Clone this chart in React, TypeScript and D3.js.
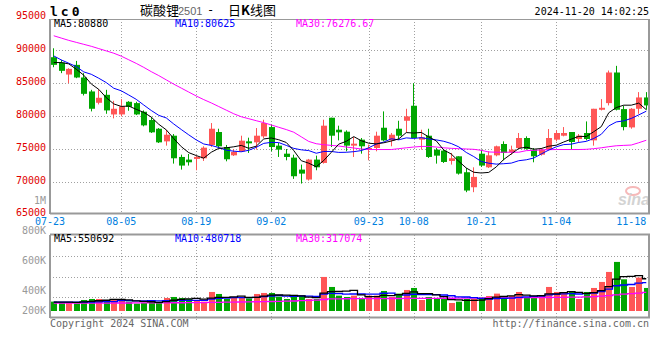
import React from 'react';
import * as d3 from 'd3';

const dates = [
  '07-23','07-24','07-25','07-26','07-29','07-30','07-31',
  '08-01','08-02','08-05','08-06','08-07','08-08','08-09','08-12','08-13','08-14','08-15','08-16',
  '08-19','08-20','08-21','08-22','08-23','08-26','08-27','08-28','08-29','08-30',
  '09-02','09-03','09-04','09-05','09-06','09-09','09-10','09-11','09-12','09-13',
  '09-18','09-19','09-20','09-23','09-24','09-25','09-26','09-27','09-30',
  '10-08','10-09','10-10','10-11','10-14','10-15','10-16','10-17','10-18',
  '10-21','10-22','10-23','10-24','10-25','10-28','10-29','10-30','10-31',
  '11-01','11-04','11-05','11-06','11-07','11-08','11-11','11-12','11-13','11-14','11-15',
  '11-18','11-19','11-20',
];
const tickLabels = ['07-23','08-05','08-19','09-02','09-23','10-08','10-21','11-04','11-18'];

const opens = [
  88890,88080,86260,87730,85810,83690,81970,83180,80200,80200,
  82120,81920,80610,79350,78030,76110,76970,73740,73340,73440,
  73540,75560,77530,75250,73990,74600,76110,75960,76870,78280,
  75460,74240,73640,71820,70310,73340,72830,79700,77880,77580,
  75460,76370,74950,75100,78180,76260,78030,79240,81520,76370,
  76970,74850,74700,73130,73840,71420,69140,74240,72170,73990,
  75710,74450,75100,76620,74850,74090,74850,76370,76970,77530,
  76470,77380,76260,80910,81920,86570,81010,78230,81060,82780,
];
const highs = [
  90250,88490,87220,88330,86470,83940,84040,83940,82270,82530,
  82220,82120,80810,79800,78130,77880,77220,74090,74190,73940,
  75360,78890,78030,75560,74950,76970,76670,78130,79400,78640,
  75860,74950,74090,72580,73440,73940,79400,79700,78490,77780,
  76770,76620,75610,77580,80660,77380,79240,81060,84950,77880,
  78030,75100,74850,74350,73840,72070,72170,74850,74600,75460,
  76110,75460,77380,76870,75100,75100,77980,77780,78280,77530,
  77220,79140,81060,82530,86870,87580,81520,81160,83590,83590,
];
const lows = [
  87370,86470,84950,85710,83080,80660,81720,80300,79600,79900,
  80760,80100,78390,77380,75860,75460,72730,71820,72430,71720,
  73130,75250,75100,73080,73890,74500,74350,74850,76620,74600,
  73740,73230,70410,69700,70150,71720,72730,75250,76260,74600,
  73740,74240,73230,74600,76110,75360,76370,77480,76620,74850,
  73590,72730,72830,72580,71060,68390,68390,72220,72070,73840,
  73230,74090,74950,74850,72930,73940,74700,76110,76870,74850,
  75960,76260,75460,80810,81570,80810,77780,78030,80300,80910,
];
const closes = [
  87730,86820,87120,85810,83330,81060,82730,80810,81060,81420,
  81360,80200,78540,77480,75960,77120,73540,72430,72930,73740,
  75150,78030,75360,73390,74500,76210,75810,76970,78890,75250,
  74850,73740,70810,71210,73340,72170,78490,76970,77480,75460,
  75760,75360,75100,76970,76260,77120,76970,79900,76620,76720,
  73740,73940,72980,73540,71210,68640,70710,72430,73990,75360,
  74350,74850,76620,74950,73840,74850,76620,77380,77380,76010,
  76970,76470,81060,81210,86570,80910,78280,81060,82780,81570,
];
const volumes = [
  159000,147000,147000,130000,187000,204000,204000,187000,204000,187000,
  159000,125000,142000,170000,142000,221000,238000,221000,204000,187000,
  159000,323000,289000,204000,221000,232000,215000,289000,306000,306000,
  244000,204000,272000,255000,204000,204000,578000,408000,261000,238000,
  261000,204000,261000,261000,340000,238000,295000,357000,391000,187000,
  238000,204000,204000,136000,159000,204000,204000,227000,255000,295000,
  255000,255000,323000,227000,227000,272000,408000,323000,323000,323000,
  204000,323000,391000,493000,663000,833000,538000,408000,567000,391000,
];

// moving-average values before enough in-window days exist
const priceMa5Head = [88080, 88080, 87880, 87070];
const priceMa10Head = [89090, 88480, 87980, 87470, 86660, 86300, 85700, 85040, 84180];
const priceMa30 = [
  92150,91800,91450,91150,90850,90550,90200,89850,89500,89050,
  88500,87950,87350,86700,86100,85450,84800,84200,83600,83000,
  82450,81950,81400,80850,80300,79850,79550,79250,78950,78600,
  78250,77900,77500,76800,76100,75750,75600,75500,75400,75250,
  75100,74950,74870,74870,74870,74870,75000,75130,75250,75340,
  75340,75250,75130,75050,75000,74950,74900,74750,74500,74460,
  74460,74460,74460,74700,74750,74800,74850,74870,74870,74870,
  74870,74900,75000,75130,75300,75440,75500,75550,75900,76277,
];
const volMa5Head = [150000, 150000, 150000, 148000];
const volMa10Head = [150000, 150000, 150000, 150000, 150000, 152000, 155000, 158000, 160000];
const volMa30 = [
  132000,132000,133000,133000,133000,134000,134000,135000,135000,136000,
  136000,137000,137000,138000,138000,139000,140000,140000,141000,142000,
  143000,145000,147000,149000,151000,153000,155000,157000,159000,161000,
  163000,166000,170000,175000,180000,186000,195000,
  205000,207000,208000,209000,210000,210000,211000,211000,212000,212000,
  213000,214000,214000,215000,215000,216000,216000,217000,
  218000,219000,220000,221000,222000,223000,224000,225000,226000,227000,
  228000,229000,230000,232000,234000,236000,240000,245000,
  252000,262000,275000,285000,295000,305000,317000,
];

const priceTicks = [65000, 70000, 75000, 80000, 85000, 90000, 95000];
const volTicks = [200000, 400000, 600000, 800000];
const priceMaLabels = ['MA5:80880', 'MA10:80625', 'MA30:76276.67'];
const volMaLabels = ['MA5:550692', 'MA10:480718', 'MA30:317074'];

const movingAvg = (arr: number[], n: number, head: number[]) =>
  arr.map((_, i) => (i < n - 1 ? head[i] : (d3.mean(arr.slice(i - n + 1, i + 1)) as number)));

const RED = '#ff5656';
const GREEN = '#00a600';
const MONO = '"DejaVu Sans Mono", monospace';
const CJK = '"Noto Sans CJK SC", sans-serif';

export default function App() {
  const W = 660, H = 360;
  const L = 50, R = 650;
  const pTop = 19, pBot = 214;
  const vTop = 235, vBot = 318;

  const x = d3.scaleBand<string>().domain(dates).range([L, R]).padding(0);
  const cx = (i: number) => (x(dates[i]) as number) + x.bandwidth() / 2;
  const bw = x.bandwidth() * 0.8;

  const y = d3.scaleLinear().domain([65000, 95000]).range([214.5, 17]);
  const yv = d3.scaleLinear().domain([0, 1290000]).range([311, 235]);
  const yvLabel = d3.scaleLinear().domain([200000, 800000]).range([323.5, 233.5]);

  const ma5 = movingAvg(closes, 5, priceMa5Head);
  const ma10 = movingAvg(closes, 10, priceMa10Head);
  const vma5 = movingAvg(volumes, 5, volMa5Head);
  const vma10 = movingAvg(volumes, 10, volMa10Head);

  const pLine = d3.line<number>().x((_, i) => cx(i)).y((v) => y(v));
  const vLine = d3.line<number>().x((_, i) => cx(i)).y((v) => yv(v)).curve(d3.curveStep);

  const isUp = (i: number) => closes[i] >= opens[i];
  const tickIdx = tickLabels.map((t) => dates.indexOf(t));

  return (
    <svg width={W} height={H} style={{ display: 'block', background: '#fff' }}>
      <style>{`body{margin:0}`}</style>

      {/* header */}
      <text x={50} y={16} fontFamily={MONO} fontWeight="bold" fontSize={13} letterSpacing={3} fill="#000">lc0</text>
      <text x={140} y={15} fontFamily={CJK} fontSize={13} fill="#000">碳酸锂</text>
      <text x={178} y={15} fontFamily='"Liberation Sans", Arial, sans-serif' fontSize={11} fill="#666">2501</text>
      <text x={207} y={14} fontFamily={MONO} fontSize={12} fill="#000">-</text>
      <text x={228} y={15} fontFamily={CJK} fontSize={13} fill="#000">
        日<tspan fontWeight="bold">K</tspan>线图
      </text>
      <text x={649} y={15} fontFamily={MONO} fontSize={10} fill="#000" textAnchor="end">2024-11-20 14:02:25</text>

      {/* main panel grid */}
      {priceTicks.filter((t) => t > 65000 && t < 95000).map((t) => (
        <line key={'hg' + t} x1={L} x2={R} y1={Math.round(y(t)) + 0.5} y2={Math.round(y(t)) + 0.5}
          stroke="#a0a0a0" strokeDasharray="1,2" />
      ))}
      {tickIdx.slice(1, -1).map((i) => (
        <line key={'vg' + i} x1={Math.round(cx(i)) + 0.5} x2={Math.round(cx(i)) + 0.5} y1={pTop} y2={pBot}
          stroke="#a0a0a0" strokeDasharray="1,2" />
      ))}

      {/* volume panel grid */}
      {d3.range(1, 4).map((k) => {
        const gy = Math.round(vTop + ((vBot - vTop) * k) / 4) + 0.5;
        return <line key={'vhg' + k} x1={L} x2={R} y1={gy} y2={gy} stroke="#a0a0a0" strokeDasharray="1,2" />;
      })}
      {tickIdx.slice(1, -1).map((i) => (
        <line key={'vvg' + i} x1={Math.round(cx(i)) + 0.5} x2={Math.round(cx(i)) + 0.5} y1={vTop} y2={vBot + 4}
          stroke="#a0a0a0" strokeDasharray="1,2" />
      ))}

      {/* watermark */}
      <g opacity={0.55}>
        <ellipse cx={633} cy={191} rx={7} ry={4} fill="none" stroke="#f08080" strokeWidth={2} />
        <text x={650} y={205} fontFamily='"Liberation Sans", Arial, sans-serif' fontStyle="italic" fontWeight="bold"
          fontSize={16} fill="#b0b0b0" textAnchor="end">sina</text>
      </g>

      {/* candles */}
      {dates.map((d, i) => {
        const c = isUp(i) ? RED : GREEN;
        const top = y(Math.max(opens[i], closes[i]));
        const bot = y(Math.min(opens[i], closes[i]));
        const xc = Math.floor(cx(i)) + 0.5;
        return (
          <g key={'c' + d}>
            <line x1={xc} x2={xc} y1={y(highs[i])} y2={y(lows[i])} stroke={c} strokeWidth={1} />
            <rect x={Math.floor(cx(i)) - 2} y={top} width={Math.round(bw)} height={Math.max(1, bot - top)} fill={c} />
          </g>
        );
      })}

      {/* MA lines main */}
      <path d={pLine(priceMa30) || ''} fill="none" stroke="#ff00ff" strokeWidth={1} />
      <path d={pLine(ma10) || ''} fill="none" stroke="#0000ff" strokeWidth={1} />
      <path d={pLine(ma5) || ''} fill="none" stroke="#000000" strokeWidth={1} />

      {/* volume bars */}
      {dates.map((d, i) => (
        <rect key={'v' + d} x={Math.floor(cx(i)) - 2} y={yv(volumes[i])} width={Math.round(bw)}
          height={yv(0) - yv(volumes[i])} fill={isUp(i) ? RED : GREEN} />
      ))}
      <path d={vLine(volMa30) || ''} fill="none" stroke="#ff00ff" strokeWidth={1.3} />
      <path d={vLine(vma10) || ''} fill="none" stroke="#0000ff" strokeWidth={1.3} />
      <path d={vLine(vma5) || ''} fill="none" stroke="#000000" strokeWidth={1.3} />

      {/* frames */}
      <line x1={L} x2={R} y1={pTop + 0.5} y2={pTop + 0.5} stroke="#999" />
      <line x1={L} x2={R} y1={pBot - 0.5} y2={pBot - 0.5} stroke="#999" strokeWidth={2} />
      <line x1={L} x2={L} y1={pTop} y2={pBot} stroke="#999" strokeWidth={2} />
      <line x1={R - 1} x2={R - 1} y1={pTop} y2={pBot} stroke="#999" strokeWidth={2} />
      <line x1={L} x2={R} y1={vTop - 0.5} y2={vTop - 0.5} stroke="#999" strokeWidth={2} />
      <line x1={L} x2={R} y1={vBot - 0.5} y2={vBot - 0.5} stroke="#999" strokeWidth={2} />
      <line x1={L} x2={L} y1={vTop} y2={vBot} stroke="#999" strokeWidth={2} />
      <line x1={R - 1} x2={R - 1} y1={vTop} y2={vBot} stroke="#999" strokeWidth={2} />

      {/* MA labels */}
      {priceMaLabels.map((t, k) => (
        <text key={'pl' + k} x={54 + k * 121} y={26.5} fontFamily={MONO} fontSize={10}
          fill={['#000', '#0000ff', '#ff00ff'][k]}>{t}</text>
      ))}
      {volMaLabels.map((t, k) => (
        <text key={'vl' + k} x={54 + k * 121} y={242} fontFamily={MONO} fontSize={10}
          fill={['#000', '#0000ff', '#ff00ff'][k]}>{t}</text>
      ))}

      {/* price axis labels */}
      {priceTicks.map((t) => (
        <text key={'pt' + t} x={46} y={Math.min(y(t) + 2, 215.5)} fontFamily={MONO} fontSize={10} fill="#e00000"
          textAnchor="end">{t}</text>
      ))}
      <text x={46} y={204} fontFamily={MONO} fontSize={10} fill="#999" textAnchor="end">1M</text>

      {/* volume axis labels */}
      {volTicks.map((t) => (
        <text key={'vt' + t} x={46} y={Math.min(yvLabel(t), 314)} fontFamily={MONO} fontSize={10} fill="#999"
          textAnchor="end">{d3.format('d')(t / 1000) + 'K'}</text>
      ))}

      {/* date labels */}
      {tickIdx.map((i, k) => (
        <text key={'dl' + i} x={k === 0 ? L : cx(i)} y={224.5} fontFamily={MONO} fontSize={10} fill="#0080e0"
          textAnchor="middle">{dates[i]}</text>
      ))}

      {/* footer */}
      <text x={50} y={327} fontFamily={MONO} fontSize={10} fill="#666">Copyright 2024 SINA.COM</text>
      <text x={649} y={327} fontFamily={MONO} fontSize={10} fill="#666" textAnchor="end">http://finance.sina.com.cn</text>
    </svg>
  );
}
